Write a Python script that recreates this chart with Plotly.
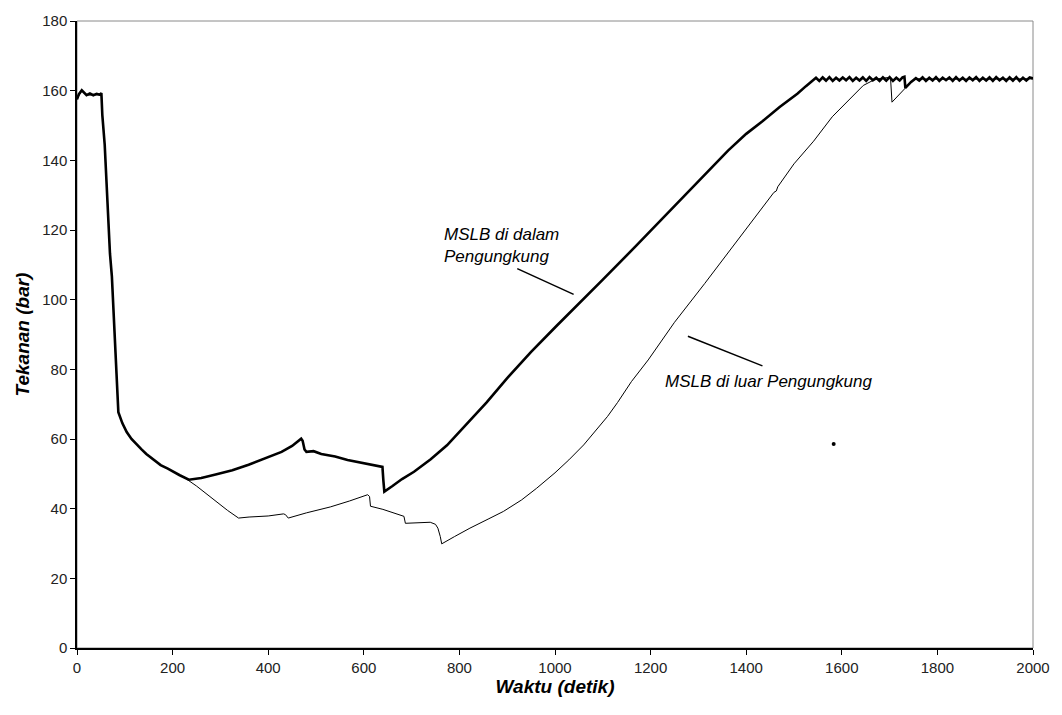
import plotly.graph_objects as go

# --- MSLB di dalam Pengungkung (thick line) ---
inside_t = [0, 4, 10, 15, 20, 27, 34, 41, 48, 51, 53, 58, 64, 69, 73, 78, 82, 86.5,
            95, 104, 114, 125, 135, 145, 160, 175, 190, 201, 215, 234, 260, 290, 325,
            359, 395, 428, 450, 469, 472, 476, 480, 495, 511, 540, 566, 600, 639, 641,
            643, 660, 680, 705, 740, 774, 810, 857, 900, 950, 1002, 1050, 1099, 1170,
            1237, 1300, 1362, 1400, 1434, 1470, 1507, 1525, 1541,
            1546, 1553, 1560, 1567, 1574, 1581, 1588, 1595, 1602, 1609, 1616, 1623, 1630,
            1637, 1644, 1651, 1658, 1665, 1672, 1679, 1686, 1693, 1700, 1707, 1714, 1721,
            1727, 1731, 1733, 1745, 1755, 1762, 1769, 1776, 1783, 1790, 1797, 1804, 1811,
            1818, 1825, 1832, 1839, 1846, 1853, 1860, 1867, 1874, 1881, 1888, 1895, 1902,
            1909, 1916, 1923, 1930, 1937, 1944, 1951, 1958, 1965, 1972, 1979, 1986, 1993,
            2000]
inside_p = [157.5, 159.0, 160.1, 159.4, 158.7, 159.2, 158.7, 159.1, 158.8, 159.3, 153.0, 144.4, 128.0,
            113.2, 106.6, 92.0, 80.0, 67.7,
            64.5, 62.0, 60.0, 58.3, 57.0, 55.7, 54.2, 52.5, 51.5, 50.6, 49.6, 48.3, 48.8, 49.8, 51.0,
            52.6, 54.5, 56.3, 58.0, 60.1, 59.5, 57.0, 56.3, 56.5, 55.7, 55.0, 54.0, 53.0, 52.0, 48.0,
            44.9, 46.5, 48.5, 50.6, 54.2, 58.2, 63.5, 70.5, 77.5, 85.0, 92.3, 98.8, 105.6, 115.5,
            125.0, 134.2, 142.8, 147.6, 151.2, 155.3, 159.1, 161.3, 163.0,
            163.7, 162.8, 163.8, 162.9, 163.9, 162.8, 163.7, 162.9, 163.8, 163.0, 163.9, 162.8, 163.7,
            162.9, 163.8, 162.8, 163.9, 163.0, 163.7, 162.8, 163.8, 162.9, 163.9, 162.8, 163.7, 162.9,
            163.8, 164.0, 160.8, 162.5, 163.6, 162.9, 163.8, 162.8, 163.7, 162.9, 163.9, 162.8, 163.7,
            163.0, 163.8, 162.8, 163.9, 162.9, 163.7, 162.8, 163.8, 163.0, 163.9, 162.8, 163.7, 162.9,
            163.8, 162.8, 163.9, 163.0, 163.7, 162.8, 163.8, 162.9, 163.9, 162.8, 163.7, 162.9, 163.8,
            163.5]

# --- MSLB di luar Pengungkung (thin line) ---
outside_t = [0, 10, 20, 34, 48, 51, 53, 58, 64, 69, 73, 78, 82, 86.5, 95, 104, 114, 125,
             135, 145, 160, 175, 190, 201, 215, 228, 250, 270, 290, 315, 338, 360, 400,
             432, 436, 442, 480, 530, 570, 608, 612, 614, 640, 684, 687, 710, 739, 750,
             755, 760, 763, 790, 822, 860, 892, 930, 961, 1000, 1029, 1060, 1085, 1110,
             1131, 1160, 1195, 1250, 1313, 1360, 1400, 1458, 1463, 1466, 1500, 1541, 1580,
             1624, 1645, 1666, 1680, 1700, 1702, 1705, 1720, 1733, 1745, 1755, 1800, 1900,
             2000]
outside_p = [157.5, 160.1, 158.7, 158.7, 158.8, 159.3, 153.0, 144.4, 128.0, 113.2, 106.6, 92.0,
             80.0, 67.7, 64.5, 62.0, 60.0, 58.3, 57.0, 55.7, 54.2, 52.5, 51.5, 50.6, 49.6, 48.6,
             46.5, 44.3, 42.0, 39.5, 37.3, 37.6, 37.9, 38.5, 38.3, 37.3, 38.8, 40.5, 42.2, 44.0,
             43.5, 40.7, 39.8, 37.8, 35.8, 36.0, 36.1, 35.5, 34.4, 32.0, 29.9, 32.0, 34.4, 37.0,
             39.2, 42.5, 45.8, 50.3, 54.0, 58.3, 62.3, 66.5, 70.5, 76.5, 82.7, 93.5, 104.6, 113.0,
             120.5, 130.8, 131.2, 132.4, 139.0, 145.5, 152.5, 158.7, 161.5, 163.0, 163.5, 163.8,
             163.5, 156.7, 158.8, 160.8, 162.5, 163.4, 163.3, 163.3, 163.4]

# stray mark on the original picture
stray_t = [1583]
stray_p = [58.6]

FONT = "Liberation Sans, Arial, sans-serif"

fig = go.Figure()
fig.add_trace(go.Scatter(x=outside_t, y=outside_p, mode="lines",
                         line=dict(color="black", width=1), showlegend=False))
fig.add_trace(go.Scatter(x=inside_t, y=inside_p, mode="lines",
                         line=dict(color="black", width=2.6), showlegend=False))
fig.add_trace(go.Scatter(x=stray_t, y=stray_p, mode="markers",
                         marker=dict(color="black", size=4), showlegend=False))

axis_common = dict(showgrid=False, zeroline=False, showline=True, linecolor="black",
                   linewidth=1.5, ticks="outside", ticklen=5, tickcolor="black",
                   tickwidth=1, tickfont=dict(family=FONT, size=15, color="#222"))

fig.update_xaxes(range=[0, 2000], dtick=200, tick0=0,
                 title=dict(text="<b><i>Waktu (detik)</i></b>", standoff=2,
                            font=dict(family=FONT, size=19, color="black")),
                 **axis_common)
fig.update_yaxes(range=[0, 180], dtick=20, tick0=0,
                 title=dict(text="<b><i>Tekanan (bar)</i></b>", standoff=8,
                            font=dict(family=FONT, size=19, color="black")),
                 **axis_common)

fig.add_shape(type="rect", xref="paper", yref="paper", x0=0, x1=1, y0=0, y1=1,
              line=dict(color="#8a8a8a", width=1), layer="below")

# annotations with leader lines
fig.add_annotation(x=763, y=115.5, xref="x", yref="y", xanchor="left", yanchor="middle",
                   text="<i>MSLB di dalam<br>Pengungkung</i>", showarrow=False, align="left",
                   font=dict(family=FONT, size=17, color="black"))
fig.add_shape(type="line", xref="x", yref="y", x0=921, y0=108.9, x1=1039, y1=101.5,
              line=dict(color="black", width=1.5))
fig.add_annotation(x=1226, y=76.5, xref="x", yref="y", xanchor="left", yanchor="middle",
                   text="<i>MSLB di luar Pengungkung</i>", showarrow=False,
                   font=dict(family=FONT, size=17, color="black"))
fig.add_shape(type="line", xref="x", yref="y", x0=1278, y0=89.5, x1=1434, y1=81.0,
              line=dict(color="black", width=1.5))

fig.update_layout(width=1062, height=715, margin=dict(l=77, r=21, t=15, b=67),
                  plot_bgcolor="white", paper_bgcolor="white",
                  font=dict(family=FONT))

fig.write_html("out.html")
